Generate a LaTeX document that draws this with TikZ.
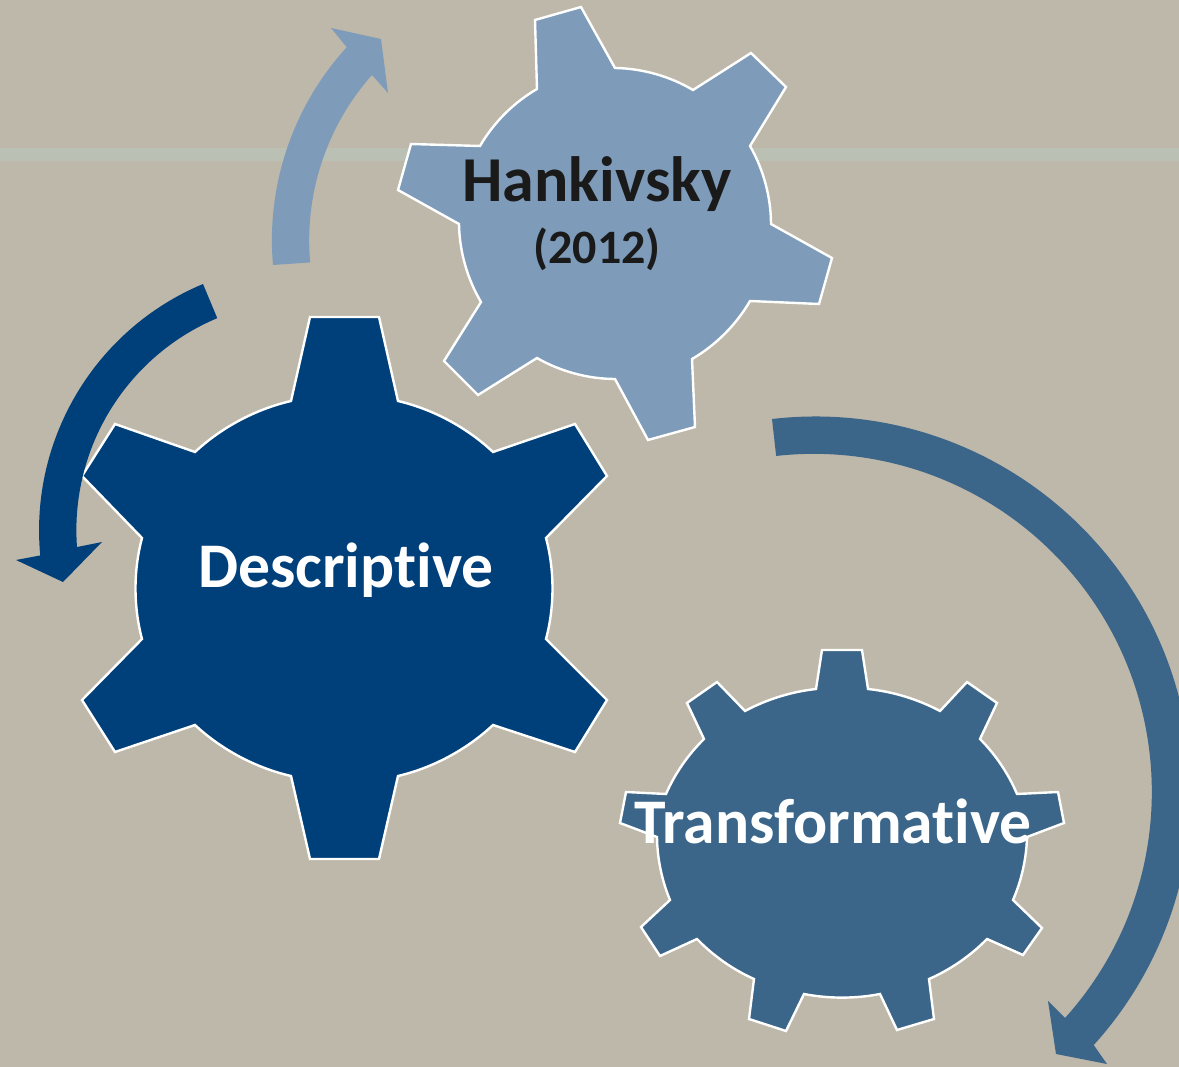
\documentclass[tikz,border=0pt]{standalone}
\usepackage{fontspec}
\setmainfont[Ligatures=CommonOff]{Carlito}
\usepackage{xcolor}
\definecolor{paperbg}{HTML}{BEB8AA}
\definecolor{stripecolor}{HTML}{BAC0B4}
\definecolor{darkgear}{HTML}{00407A}
\definecolor{midgear}{HTML}{3B6689}
\definecolor{lightgear}{HTML}{7E9CBA}
\definecolor{darktext}{HTML}{1A1A1A}
\tikzset{
    gearshape/.style={draw=white, line width=2.4pt, line join=miter},
    bendgear/.style={bend left=15, looseness=0.85},
    bendsmall/.style={bend left=11, looseness=0.85},
    geartext/.style={anchor=base, inner sep=0pt, font=\bfseries\fontsize{#1}{#1}\selectfont},
}

\begin{document}
\begin{tikzpicture}[x=1pt, y=-1pt]
        \useasboundingbox (0,0) rectangle (1179,1067);
        \clip (0,0) rectangle (1179,1067);
        \fill[paperbg] (0,0) rectangle (1179,1067);
        \fill[stripecolor] (0,148.5) rectangle (1179,161.5);

        % Hankivsky gear
        \draw[gearshape, fill=lightgear]
            (537,89) -- (535,20) -- (581,7) -- (615,68) to[bendgear] (693,90)
            -- (751,53) -- (786,87) -- (750,146) to[bendgear] (771,224)
            -- (832,258) -- (819,304) -- (750,301) to[bendgear] (692,359)
            -- (695,427) -- (648,440) -- (615,379) to[bendgear] (537,358)
            -- (478,395) -- (444,361) -- (481,302) to[bendgear] (459,224)
            -- (398,190) -- (411,144) -- (480,146) to[bendgear] cycle;

        % Descriptive gear
        \draw[gearshape, fill=darkgear]
            (291,401) -- (310,317) -- (379,317) -- (398,401) to[bendgear] (493,452)
            -- (575,424) -- (607,476) -- (546,538) to[bendgear] (546,639)
            -- (607,700) -- (575,752) -- (493,725) to[bendgear] (398,776)
            -- (379,859) -- (310,859) -- (291,776) to[bendgear] (195,725)
            -- (115,752) -- (82,700) -- (142,639) to[bendgear] (142,538)
            -- (82,476) -- (115,424) -- (195,452) to[bendgear] cycle;

        % Transformative gear
        \draw[gearshape, fill=midgear]
            (816,689) -- (822,650) -- (862,650) -- (868,689) to[bendsmall] (940,711)
            -- (967,682) -- (997,703) -- (980,739) to[bendsmall] (1017,794)
            -- (1058,792) -- (1064,823) -- (1027,837) to[bendsmall] (1013,900)
            -- (1042,928) -- (1023,955) -- (987,939) to[bendsmall] (929,979)
            -- (934,1019) -- (897,1030) -- (880,994) to[bendsmall] (804,994)
            -- (786,1031) -- (749,1019) -- (754,979) to[bendsmall] (697,939)
            -- (660,956) -- (641,927) -- (670,900) to[bendsmall] (657,837)
            -- (620,823) -- (626,792) -- (666,794) to[bendsmall] (704,739)
            -- (687,703) -- (717,682) -- (745,711) to[bendsmall] cycle;

        % curved arrows
        \fill[lightgear] (273,265) arc[start angle=175, end angle=222.4, radius=286]
            -- (331,28) -- (381,39) -- (388,93) -- (372,75)
            arc[start angle=221.6, end angle=174.9, radius=249] -- cycle;
        \fill[darkgear] (203,284) arc[start angle=247.3, end angle=174.6, radius=267]
            -- (16,560) -- (63,582) -- (102,542) -- (77,547)
            arc[start angle=175.8, end angle=247.2, radius=230] -- cycle;
        \fill[midgear] (772,419) arc[start angle=-96.6, end angle=42.2, radius=376]
            -- (1107,1064) -- (1056,1054) -- (1048,1001) -- (1065,1018)
            arc[start angle=42, end angle=-96.4, radius=338] -- cycle;

        \node[geartext=64, text=darktext] (hankivsky) at (597,202) {Hankivsky};
        \node[geartext=48, text=darktext] (hankivskyyear) at (597,264) {(2012)};
        \node[geartext=63.6, text=white] (descriptive) at (346,587) {Descriptive};
        \node[geartext=63.6, text=white] (transformative) at (833,843) {Transformative};
    \end{tikzpicture}
\end{document}
